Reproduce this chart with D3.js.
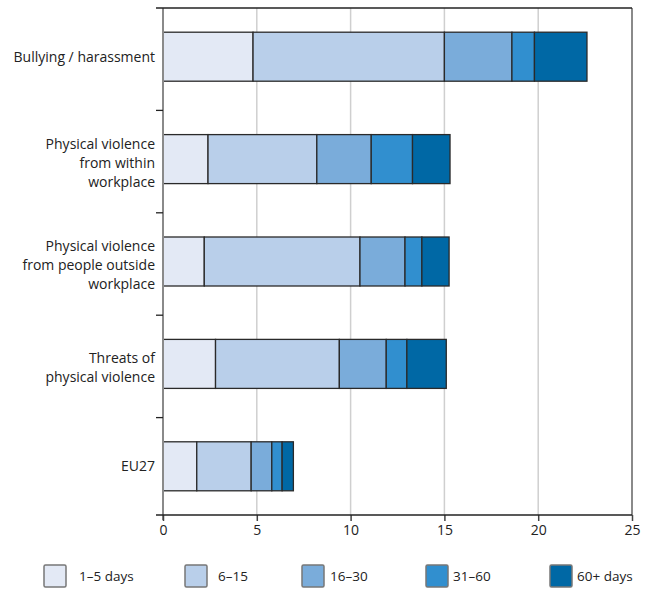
<!DOCTYPE html>
<html>
<head>
<meta charset="utf-8">
<script src="https://cdn.jsdelivr.net/npm/d3@7"></script>
<style>
  html, body { margin: 0; padding: 0; background: #fff; }
  svg { display: block; }
  text { font-family: "Open Sans", "Noto Sans", sans-serif; fill: #222; }
</style>
</head>
<body>
<svg id="chart" width="653" height="593"></svg>
<script>
// Sickness absence by number of days, per type of adverse social behaviour (%)
const categories = [
  "Bullying / harassment",
  "Physical violence\nfrom within\nworkplace",
  "Physical violence\nfrom people outside\nworkplace",
  "Threats of\nphysical violence",
  "EU27"
];
const seriesNames = ["1–5 days", "6–15", "16–30", "31–60", "60+ days"];
const days1to5   = [4.8, 2.4, 2.2, 2.8, 1.8];
const days6to15  = [10.2, 5.8, 8.3, 6.6, 2.9];
const days16to30 = [3.6, 2.9, 2.4, 2.5, 1.1];
const days31to60 = [1.2, 2.2, 0.9, 1.1, 0.55];
const days60plus = [2.8, 2.0, 1.45, 2.1, 0.6];
const xTicks = [0, 5, 10, 15, 20, 25];

const colors = ["#e3e9f5", "#b9cfea", "#7aacda", "#318fcf", "#0068a5"];

const svg = d3.select("#chart");
const plotLeft = 163, plotRight = 632, plotTop = 8, axisY = 515;

const x = d3.scaleLinear().domain([0, 25]).range([plotLeft, plotRight]);
const y = d3.scaleBand().domain(categories).range([plotTop, 520]).paddingInner(0).paddingOuter(0);
const barH = 49;
const barOffset = (y.bandwidth() - barH) / 2 - 2.5;

// build stacked rows
const rows = categories.map((c, i) => {
  const r = { cat: c };
  [days1to5, days6to15, days16to30, days31to60, days60plus].forEach((arr, k) => { r[seriesNames[k]] = arr[i]; });
  return r;
});
const stacked = d3.stack().keys(seriesNames)(rows);

// vertical gridlines
svg.append("g").selectAll("line")
  .data(xTicks.filter(t => t > 0 && t < 25))
  .join("line")
  .attr("x1", d => x(d)).attr("x2", d => x(d))
  .attr("y1", plotTop).attr("y2", axisY)
  .attr("stroke", "#cfcfcf").attr("stroke-width", 1.5);

// right frame line
svg.append("line")
  .attr("x1", plotRight).attr("x2", plotRight).attr("y1", plotTop).attr("y2", axisY)
  .attr("stroke", "#8a8a8a").attr("stroke-width", 2);

// bars
svg.append("g").selectAll("g")
  .data(stacked)
  .join("g")
  .attr("fill", (d, i) => colors[i])
  .selectAll("rect")
  .data(d => d)
  .join("rect")
  .attr("x", d => x(d[0]))
  .attr("width", d => x(d[1]) - x(d[0]))
  .attr("y", d => y(d.data.cat) + barOffset)
  .attr("height", barH)
  .attr("stroke", "#2a2a2a")
  .attr("stroke-width", 1.3);

// left axis line
svg.append("line")
  .attr("x1", plotLeft).attr("x2", plotLeft).attr("y1", plotTop).attr("y2", axisY + 5)
  .attr("stroke", "#8a8a8a").attr("stroke-width", 2);

// top frame line
svg.append("line")
  .attr("x1", plotLeft - 7).attr("x2", plotRight).attr("y1", plotTop).attr("y2", plotTop)
  .attr("stroke", "#222").attr("stroke-width", 1.5);

// category separator ticks
svg.append("g").selectAll("line")
  .data(categories.slice(1))
  .join("line")
  .attr("x1", plotLeft - 7).attr("x2", plotLeft)
  .attr("y1", d => y(d)).attr("y2", d => y(d))
  .attr("stroke", "#222").attr("stroke-width", 1.3);

// x axis
const xAxis = d3.axisBottom(x).tickValues(xTicks).tickSize(6).tickPadding(4).tickFormat(d3.format("d"));
const gx = svg.append("g").attr("transform", `translate(0,${axisY})`).call(xAxis);
gx.select(".domain").remove();
gx.selectAll(".tick line").attr("stroke", "#444").attr("stroke-width", 1.5);
gx.selectAll(".tick text").attr("font-size", 14).attr("fill", "#222")
  .style("font-family", '"Open Sans", "Noto Sans", sans-serif');
svg.append("line")
  .attr("x1", plotLeft - 7).attr("x2", plotRight).attr("y1", axisY).attr("y2", axisY)
  .attr("stroke", "#222").attr("stroke-width", 1.5);

// category labels
const lineH = 19;
svg.append("g").selectAll("text")
  .data(categories)
  .join("text")
  .attr("text-anchor", "end")
  .attr("font-size", 14)
  .each(function (d) {
    const lines = d.split("\n");
    const shift = lines.length > 1 ? 3.5 : 0;
    const cy = y(d) + barOffset + barH / 2 + shift;
    const t = d3.select(this);
    lines.forEach((ln, i) => {
      t.append("tspan")
        .attr("x", plotLeft - 8)
        .attr("y", cy + (i - (lines.length - 1) / 2) * lineH)
        .attr("dy", "0.35em")
        .text(ln);
    });
  });

// legend
const legendX = [44, 185, 302, 426, 550];
const legendTextGap = [35, 33, 28, 27, 27];
const lg = svg.append("g").selectAll("g")
  .data(seriesNames)
  .join("g")
  .attr("transform", (d, i) => `translate(${legendX[i]},565)`);
lg.append("rect")
  .attr("width", 22).attr("height", 22).attr("rx", 1.5)
  .attr("fill", (d, i) => colors[i])
  .attr("stroke", "#777").attr("stroke-width", 1.5);
lg.append("text")
  .attr("x", (d, i) => legendTextGap[i])
  .attr("y", 11)
  .attr("dy", "0.35em")
  .attr("font-size", 13.5)
  .text(d => d);
</script>
</body>
</html>
